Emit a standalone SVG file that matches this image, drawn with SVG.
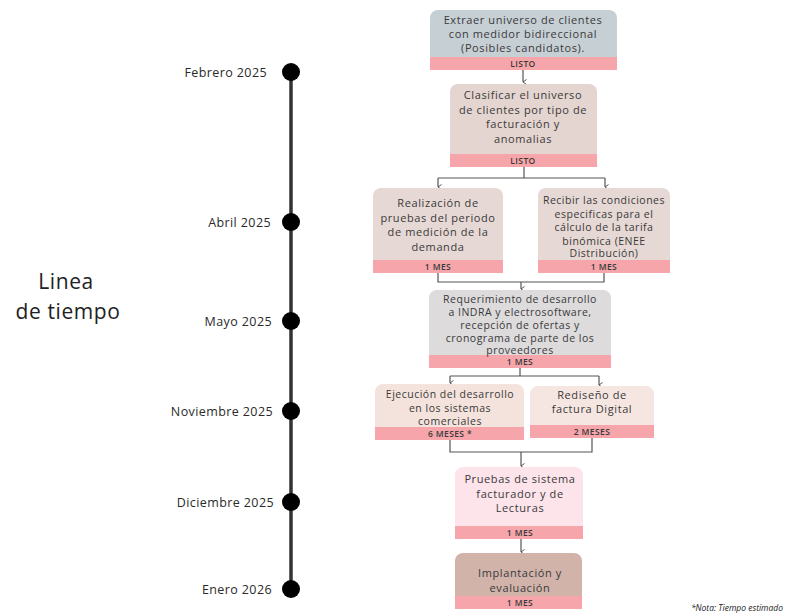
<svg xmlns="http://www.w3.org/2000/svg" width="786" height="615" viewBox="0 0 786 615">
<defs>
<marker id="arr" markerWidth="6" markerHeight="6" refX="3" refY="5" orient="auto" markerUnits="userSpaceOnUse">
<path d="M0.5,1.5 L3,5 L5.5,1.5" fill="none" stroke="#555" stroke-width="1"/>
</marker>
<style>
.t{font-family:"Open Sans","Liberation Sans",sans-serif;font-size:11px;fill:#3a3a3a;text-anchor:middle;letter-spacing:0.6px}
.ts{font-family:"Open Sans","Liberation Sans",sans-serif;font-size:10.5px;fill:#3a3a3a;text-anchor:middle;letter-spacing:0.5px}
.b{font-family:"Open Sans","Liberation Sans",sans-serif;font-size:8.5px;font-weight:600;fill:#3a3a3a;text-anchor:middle;letter-spacing:0.4px}
.band{fill:#f6a6aa}
.date{font-family:"Open Sans","Liberation Sans",sans-serif;font-size:12.5px;fill:#2a2a2a;text-anchor:end;letter-spacing:0.4px}
.c{fill:none;stroke:#555;stroke-width:1.2}
.dot{fill:#000}
.title{font-family:"Open Sans","Liberation Sans",sans-serif;font-size:21px;fill:#222;text-anchor:middle;letter-spacing:0.6px}
</style>
</defs>
<rect width="786" height="615" fill="#fff"/>

<g id="timeline">
<line x1="291" y1="72" x2="291" y2="589" stroke="#333" stroke-width="3.5"/>
<circle class="dot" cx="291" cy="72" r="9"/>
<circle class="dot" cx="291" cy="222" r="9"/>
<circle class="dot" cx="291" cy="321" r="9"/>
<circle class="dot" cx="291" cy="411" r="9"/>
<circle class="dot" cx="291" cy="502" r="9"/>
<circle class="dot" cx="291" cy="589" r="9"/>
<text class="date" x="267" y="77">Febrero 2025</text>
<text class="date" x="271" y="227">Abril 2025</text>
<text class="date" x="272" y="326">Mayo 2025</text>
<text class="date" x="273" y="416">Noviembre 2025</text>
<text class="date" x="274" y="507">Diciembre 2025</text>
<text class="date" x="272" y="594">Enero 2026</text>
</g>

<g id="title">
<text class="title" x="66" y="289">Linea</text>
<text class="title" x="68" y="319">de tiempo</text>
</g>

<g id="connectors">
<path class="c" d="M523,70 V82" marker-end="url(#arr)"/>
<path class="c" d="M524,167 V178"/>
<path class="c" d="M438,178 H605"/>
<path class="c" d="M438,178 V187" marker-end="url(#arr)"/>
<path class="c" d="M605,178 V187" marker-end="url(#arr)"/>
<path class="c" d="M438,273 V282 H604 V273"/>
<path class="c" d="M521,282 V289" marker-end="url(#arr)"/>
<path class="c" d="M520,368 V376"/>
<path class="c" d="M450,376 H599"/>
<path class="c" d="M450,376 V383" marker-end="url(#arr)"/>
<path class="c" d="M599,376 V385" marker-end="url(#arr)"/>
<path class="c" d="M450,440 V452 H592 V438"/>
<path class="c" d="M521,452 V466" marker-end="url(#arr)"/>
<path class="c" d="M521,539 V552" marker-end="url(#arr)"/>
</g>

<g id="n1">
<rect x="430" y="10" width="187" height="60" rx="8" fill="#c6cfd4"/>
<rect class="band" x="430" y="57" width="187" height="13"/>
<text class="t" x="523" y="24">Extraer universo de clientes</text>
<text class="t" x="523" y="38">con medidor bidireccional</text>
<text class="t" x="523" y="52">(Posibles candidatos).</text>
<text class="b" x="523" y="66.5">LISTO</text>
</g>

<g id="n2">
<rect x="450" y="84" width="147" height="83" rx="8" fill="#e5d5d0"/>
<rect class="band" x="450" y="154" width="147" height="13"/>
<text class="t" x="523" y="99">Clasificar el universo</text>
<text class="t" x="523" y="113.5">de clientes por tipo de</text>
<text class="t" x="523" y="128">facturación y</text>
<text class="t" x="523" y="142.5">anomalias</text>
<text class="b" x="523" y="163.5">LISTO</text>
</g>

<g id="n3a">
<rect x="373" y="188" width="130" height="85" rx="8" fill="#e6d8d4"/>
<rect class="band" x="373" y="260" width="130" height="13"/>
<text class="t" x="438" y="207">Realización de</text>
<text class="t" x="438" y="221.5">pruebas del periodo</text>
<text class="t" x="438" y="236">de medición de la</text>
<text class="t" x="438" y="250.5">demanda</text>
<text class="b" x="438" y="269.5">1 MES</text>
</g>

<g id="n3b">
<rect x="538" y="188" width="132" height="85" rx="8" fill="#e6d8d4"/>
<rect class="band" x="538" y="260" width="132" height="13"/>
<text class="ts" x="604" y="204">Recibir las condiciones</text>
<text class="ts" x="604" y="217.5">especificas para el</text>
<text class="ts" x="604" y="231">cálculo de la tarifa</text>
<text class="ts" x="604" y="244.5">binómica (ENEE</text>
<text class="ts" x="604" y="257">Distribución)</text>
<text class="b" x="604" y="269.5">1 MES</text>
</g>

<g id="n4">
<rect x="429" y="290" width="182" height="78" rx="8" fill="#dddbdc"/>
<rect class="band" x="429" y="355" width="182" height="13"/>
<text class="ts" x="520" y="303">Requerimiento de desarrollo</text>
<text class="ts" x="520" y="316">a INDRA y electrosoftware,</text>
<text class="ts" x="520" y="329">recepción de ofertas y</text>
<text class="ts" x="520" y="341.5">cronograma de parte de los</text>
<text class="ts" x="520" y="354">proveedores</text>
<text class="b" x="520" y="365">1 MES</text>
</g>

<g id="n5a">
<rect x="375" y="384" width="149" height="56" rx="8" fill="#f4e3dc"/>
<rect class="band" x="375" y="427" width="149" height="13"/>
<text class="ts" x="450" y="398">Ejecución del desarrollo</text>
<text class="ts" x="450" y="411.5">en los sistemas</text>
<text class="ts" x="450" y="425">comerciales</text>
<text class="b" x="450" y="436.5">6 MESES *</text>
</g>

<g id="n5b">
<rect x="530" y="386" width="124" height="52" rx="8" fill="#f6e6e1"/>
<rect class="band" x="530" y="425" width="124" height="13"/>
<text class="t" x="592" y="399">Rediseño de</text>
<text class="t" x="592" y="413">factura Digital</text>
<text class="b" x="592" y="434.5">2 MESES</text>
</g>

<g id="n6">
<rect x="455" y="467" width="128" height="72" rx="8" fill="#fde4ea"/>
<rect class="band" x="455" y="526" width="128" height="13"/>
<text class="t" x="520" y="483">Pruebas de sistema</text>
<text class="t" x="520" y="498">facturador y de</text>
<text class="t" x="520" y="512">Lecturas</text>
<text class="b" x="520" y="535.5">1 MES</text>
</g>

<g id="n7">
<rect x="455" y="553" width="127" height="56" rx="8" fill="#d1b3aa"/>
<rect class="band" x="455" y="596" width="127" height="13"/>
<text class="t" x="520" y="577">Implantación y</text>
<text class="t" x="520" y="592">evaluación</text>
<text class="b" x="520" y="605.5">1 MES</text>
</g>

<text x="783" y="611" font-family="'Open Sans','Liberation Sans',sans-serif" font-size="8.5" font-style="italic" fill="#222" text-anchor="end">*Nota: Tiempo estimado</text>
</svg>
